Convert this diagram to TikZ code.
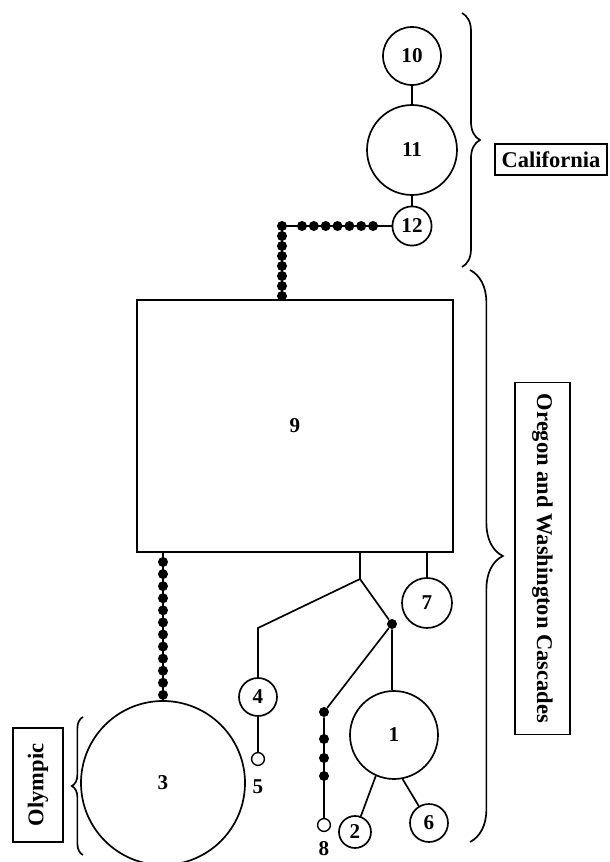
\documentclass[tikz,border=0pt]{standalone}
\usepackage{fontspec}
\setmainfont{Liberation Serif}
\usetikzlibrary{positioning, calc, decorations.pathreplacing}
\tikzset{
  %% haplotype circles and the big box
  hap/.style={circle, draw, line width=1.2pt, inner sep=0pt, fill=white,
              font=\bfseries\fontsize{15}{17}\selectfont},
  hapbox/.style={rectangle, draw, line width=1.2pt, inner sep=0pt,
                 font=\bfseries\fontsize{15}{17}\selectfont},
  %% missing / unsampled steps
  stepdot/.style={circle, fill, inner sep=0pt, minimum size=0.25cm},
  openhap/.style={circle, draw, line width=1pt, fill=white, inner sep=0pt,
                  minimum size=0.32cm},
  hlabel/.style={font=\bfseries\fontsize{15}{17}\selectfont, inner sep=0pt},
  %% connectors
  link/.style={line width=1.2pt},
  %% regions
  regionbox/.style={rectangle, draw, line width=1pt, inner sep=2pt,
                    font=\bfseries\fontsize{16}{18}\selectfont},
  regionbrace/.style={decorate, line width=1.2pt},
}
\begin{document}
\begin{tikzpicture}
\useasboundingbox (0,0) rectangle (15.25,21.55);

%% ============================================================
%%  CENTRAL HAPLOTYPE 9
%% ============================================================
\node[hapbox, minimum width=7.9cm, minimum height=6.3cm] (hap9) at (7.375,10.9) {9};

%% ============================================================
%%  CALIFORNIA GROUP (10, 11, 12)
%% ============================================================
\node[hap, minimum size=1.45cm] (hap10) at (10.3,20.15) {10};
\node[hap, minimum size=2.25cm] (hap11) at (10.3,17.8) {11};
\node[hap, minimum size=0.98cm] (hap12) at (10.3,15.9) {12};
\draw[link] (hap10) -- (hap11);
\draw[link] (hap11) -- (hap12);

%% chain from 12 down to 9
\coordinate (bend) at (7.05,15.9);
\draw[link] (hap12) -- (bend) -- (bend |- hap9.north);
\foreach \xx in {0,...,6} {
  \node[stepdot] at (7.55+\xx*0.296,15.9) {};
}
\foreach \yy in {0,...,7} {
  \node[stepdot] at (7.05,15.9-\yy*0.25) {};
}

%% ============================================================
%%  OLYMPIC HAPLOTYPE 3
%% ============================================================
\node[hap, minimum size=4.1cm] (hap3) at (4.075,1.975) {3};
\draw[link] (hap9.south -| hap3) -- (hap3);
\foreach \yy in {0,...,11} {
  \node[stepdot] at (4.075,7.5-\yy*0.302) {};
}

%% ============================================================
%%  CASCADE HAPLOTYPES
%% ============================================================
\node[hap, minimum size=1.25cm] (hap7) at (10.675,6.475) {7};
\draw[link] (hap7 |- hap9.south) -- (hap7);

\coordinate (split) at (9.0,7.075);
\coordinate (elbow) at (6.45,5.85);
\draw[link] (split |- hap9.south) -- (split);

%% left branch: 4 and 5
\node[hap, minimum size=0.95cm] (hap4) at (6.45,4.125) {4};
\node[openhap] (hap5) at (6.45,2.575) {};
\node[hlabel] (lab5) at (6.45,1.875) {5};
\draw[link] (split) -- (elbow) -- (hap4);
\draw[link] (hap4) -- (hap5);

%% right branch: 1, 2, 6 and 8
\node[stepdot] (fork) at (9.8,5.95) {};
\node[hap, minimum size=2.2cm] (hap1) at (9.85,3.175) {1};
\node[hap, minimum size=0.8cm] (hap2) at (8.875,0.75) {2};
\node[hap, minimum size=0.95cm] (hap6) at (10.725,0.975) {6};
\draw[link] (split) -- (fork) -- (fork |- hap1.north);
\draw[link] (hap1.-114) -- (hap2);
\draw[link] (hap1.-79) -- (hap6);

\node[stepdot] (dot8) at (8.1,3.75) {};
\node[openhap] (hap8) at (8.1,0.925) {};
\node[hlabel] (lab8) at (8.1,0.325) {8};
\draw[link] (fork) -- (dot8) -- (hap8);
\foreach \yy in {3.075, 2.6, 2.15} {
  \node[stepdot] at (8.1,\yy) {};
}

%% ============================================================
%%  REGIONS
%% ============================================================
\draw[regionbrace, decoration={brace, amplitude=0.45cm}]
  (11.55,21.225) -- (11.55,14.875);
\node[regionbox, minimum width=2.8cm, minimum height=0.78cm] (calif)
  at (13.775,17.56) {California};

\draw[regionbrace, decoration={brace, amplitude=0.82cm}]
  (11.75,14.8) -- (11.75,0.5);
\node[regionbox, rotate=-90, minimum width=8.8cm, minimum height=1.375cm] (cascades)
  at (13.56,7.59) {Oregon and Washington Cascades};

\draw[regionbrace, decoration={brace, amplitude=0.28cm}]
  (2.075,0.175) -- (2.075,3.625);
\node[regionbox, rotate=90, minimum width=2.85cm, minimum height=1.25cm] (olympic)
  at (0.95,1.925) {Olympic};

\end{tikzpicture}
\end{document}
